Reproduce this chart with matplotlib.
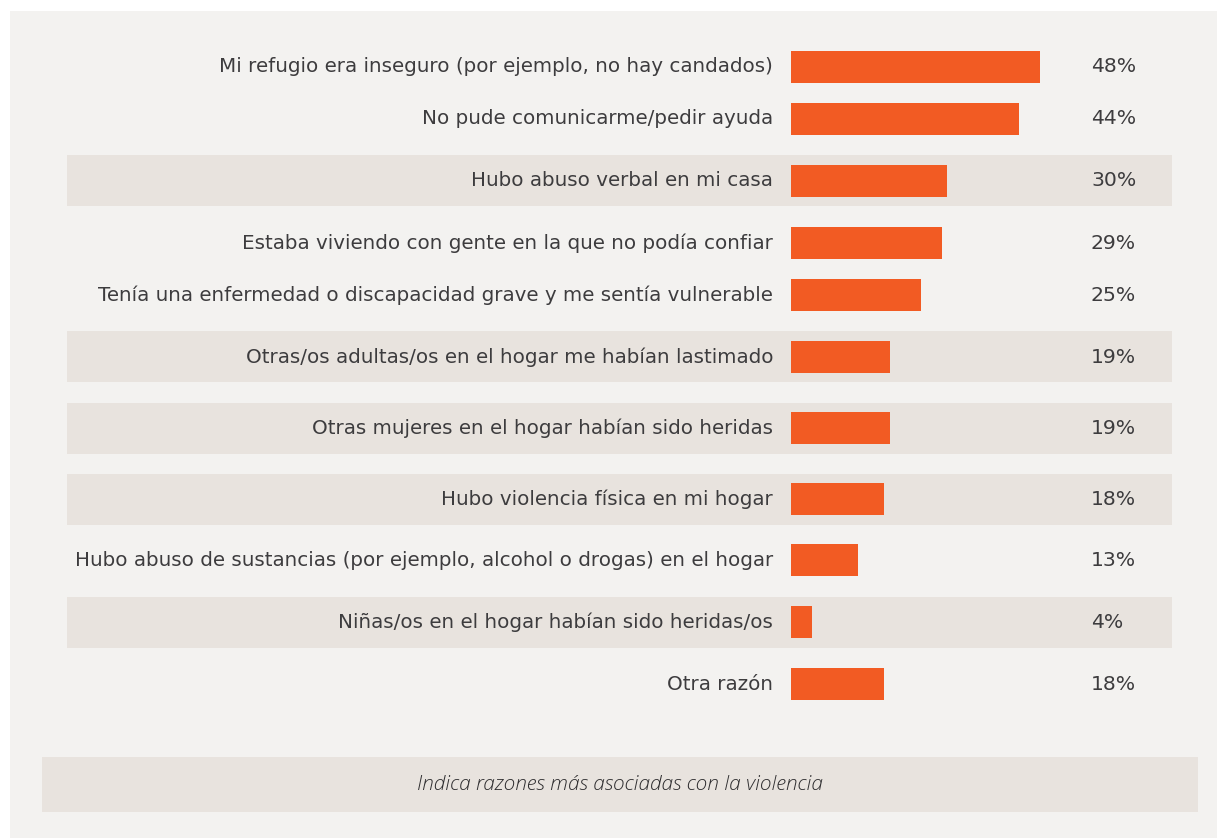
import matplotlib
matplotlib.use("Agg")
import matplotlib.pyplot as plt
from matplotlib.patches import Rectangle

# ── data ──
labels = [
    "Mi refugio era inseguro (por ejemplo, no hay candados)",
    "No pude comunicarme/pedir ayuda",
    "Hubo abuso verbal en mi casa",
    "Estaba viviendo con gente en la que no podía confiar",
    "Tenía una enfermedad o discapacidad grave y me sentía vulnerable",
    "Otras/os adultas/os en el hogar me habían lastimado",
    "Otras mujeres en el hogar habían sido heridas",
    "Hubo violencia física en mi hogar",
    "Hubo abuso de sustancias (por ejemplo, alcohol o drogas) en el hogar",
    "Niñas/os en el hogar habían sido heridas/os",
    "Otra razón",
]
values = [48, 44, 30, 29, 25, 19, 19, 18, 13, 4, 18]
highlighted = [False, False, True, False, False, True, True, True, False, True, False]
footer_text = "Indica razones más asociadas con la violencia"

# ── layout (pixels) ──
W, H = 1217, 838
row_y = [67, 119, 181, 243, 295, 357, 428, 499, 560, 622, 684]
BAR_LEFT = 791
PX_PER_PCT = 5.19
BAR_H = 32
BAND_H = 51

BG = "#f3f2f0"
BAND = "#e8e3de"
ORANGE = "#f25b23"
TXT = "#3d3c3e"

fig = plt.figure(figsize=(W / 100, H / 100), dpi=100)
fig.patch.set_facecolor("white")

# background axes in pixel units
bg = fig.add_axes([0, 0, 1, 1])
bg.set_xlim(0, W)
bg.set_ylim(H, 0)
bg.axis("off")
bg.add_patch(Rectangle((10, 11), W - 10, H - 11, color=BG, lw=0))
for y, hl in zip(row_y, highlighted):
    if hl:
        bg.add_patch(Rectangle((67, y - BAND_H / 2), 1172 - 67, BAND_H, color=BAND, lw=0))
bg.add_patch(Rectangle((42, 757), 1198 - 42, 55, color=BAND, lw=0))

for y, lab, v in zip(row_y, labels, values):
    bg.text(773, y, lab, ha="right", va="center", fontsize=14.3,
            family="DejaVu Sans", color=TXT)
    bg.text(1091, y, f"{v}%", ha="left", va="center", fontsize=14.7,
            family="DejaVu Sans", color=TXT)

bg.text(620, 785, footer_text, ha="center", va="center", fontsize=15,
        family="Open Sans", style="italic", weight="light",
        color="#2e2d2f")

# bar axes: x in percent
ax = fig.add_axes([BAR_LEFT / W, 0, (W - BAR_LEFT) / W, 1])
ax.set_xlim(0, (W - BAR_LEFT) / PX_PER_PCT)
ax.set_ylim(H, 0)
ax.axis("off")
ax.barh(row_y, values, height=BAR_H, color=ORANGE, lw=0)

fig.savefig("out.png", dpi=100, facecolor=fig.get_facecolor())
